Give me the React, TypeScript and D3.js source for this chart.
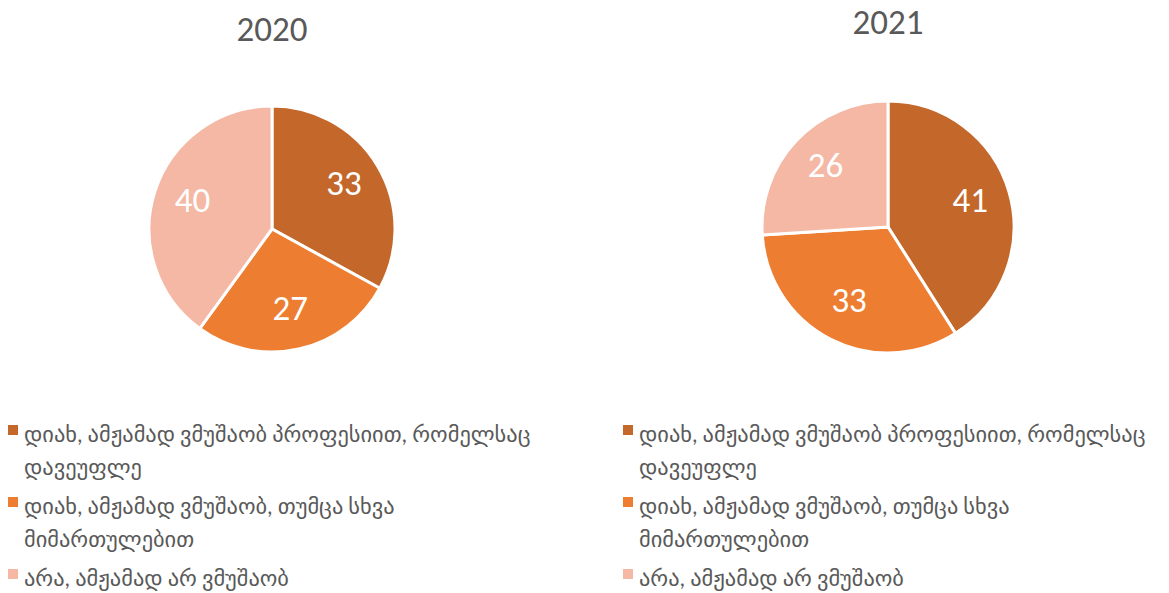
import * as d3 from "d3";

const categories = [
  "დიახ, ამჟამად ვმუშაობ პროფესიით, რომელსაც დავეუფლე",
  "დიახ, ამჟამად ვმუშაობ, თუმცა სხვა მიმართულებით",
  "არა, ამჟამად არ ვმუშაობ",
];
const legendLines = [
  ["დიახ, ამჟამად ვმუშაობ პროფესიით, რომელსაც", "დავეუფლე"],
  ["დიახ, ამჟამად ვმუშაობ, თუმცა სხვა", "მიმართულებით"],
  ["არა, ამჟამად არ ვმუშაობ"],
];
const years = ["2020", "2021"];
const values2020 = [33, 27, 40];
const values2021 = [41, 33, 26];
const colors = ["#C4672A", "#ED7D31", "#F4B8A5"];

const FONT = "Calibri, Carlito, Lato, 'DejaVu Sans', sans-serif";

type PieProps = {
  title: string;
  values: number[];
  cx: number;
  cy: number;
  r: number;
  titleY: number;
  legendX: number;
};

function Pie({ title, values, cx, cy, r, titleY, legendX }: PieProps) {
  const data = values.map((v, i) => ({ v, cat: categories[i] }));
  const arcs = d3.pie<{ v: number; cat: string }>().value(d => d.v).sort(null)(data);
  const arc = d3.arc<d3.PieArcDatum<{ v: number; cat: string }>>().innerRadius(0).outerRadius(r);
  const labelArc = d3
    .arc<d3.PieArcDatum<{ v: number; cat: string }>>()
    .innerRadius(r * 0.68)
    .outerRadius(r * 0.68);

  // legend rows: text line centres
  const lineYs = [
    [434, 467],
    [506, 539],
    [578],
  ];

  return (
    <g>
      <text x={cx} y={titleY} textAnchor="middle" fontSize={35} fill="#595959" fontFamily={FONT}>
        {title}
      </text>
      <g transform={`translate(${cx},${cy})`}>
        {arcs.map((a, i) => (
          <path key={i} d={arc(a) ?? ""} fill={colors[i]} stroke="#fff" strokeWidth={3} />
        ))}
        {arcs.map((a, i) => {
          const [x, y] = labelArc.centroid(a);
          return (
            <text
              key={"l" + i}
              x={x}
              y={y - 3}
              textAnchor="middle"
              dominantBaseline="central"
              fontSize={35}
              fill="#fff"
              fontFamily={FONT}
            >
              {a.data.v}
            </text>
          );
        })}
      </g>
      {legendLines.map((lines, i) => (
        <g key={"lg" + i}>
          <rect x={legendX} y={lineYs[i][0] - 9} width={10} height={10} fill={colors[i]} />
          {lines.map((ln, j) => (
            <text
              key={j}
              x={legendX + 16}
              y={lineYs[i][j]}
              dominantBaseline="central"
              fontSize={22.4}
              fill="#595959"
              fontFamily={FONT}
            >
              {ln}
            </text>
          ))}
        </g>
      ))}
    </g>
  );
}

export default function App() {
  return (
    <div style={{ position: "absolute", left: 0, top: 0 }}>
      <svg width={1169} height={593} style={{ display: "block", background: "#fff" }}>
        <Pie title={years[0]} values={values2020} cx={272} cy={229} r={123} titleY={41} legendX={8} />
        <Pie title={years[1]} values={values2021} cx={888} cy={227} r={126} titleY={34} legendX={623} />
      </svg>
    </div>
  );
}
